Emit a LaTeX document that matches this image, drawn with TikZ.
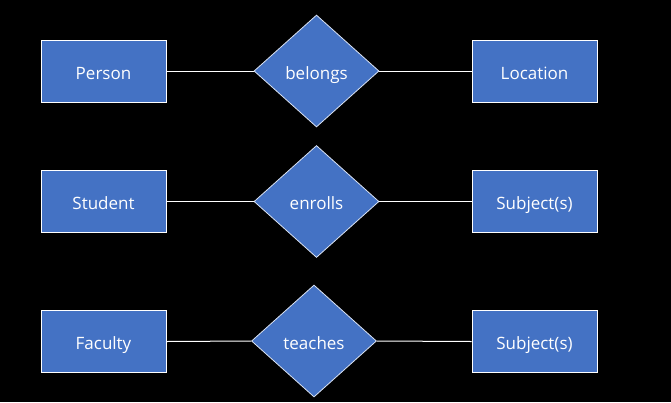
\documentclass[tikz,border=0pt]{standalone}
\usepackage{fontspec}
\setmainfont{Open Sans}
\usetikzlibrary{shapes.geometric}
\definecolor{boxblue}{HTML}{4472C4}
\tikzset{
  lbl/.style={text=white, font=\fontsize{17}{19}\selectfont, text height=17pt, text depth=1pt, inner sep=0pt},
  entity/.style={draw=white, line width=1pt, fill=boxblue, minimum width=125pt, minimum height=62pt, inner sep=0pt, lbl},
  relation/.style={diamond, draw=white!80!boxblue, line width=0.8pt, fill=boxblue, minimum width=125pt, minimum height=112pt, inner sep=0pt, shape aspect=1.116},
  link/.style={draw=white, line width=1pt}
}
\begin{document}
\begin{tikzpicture}[x=1pt,y=-1pt]
\fill[black] (0,0) rectangle (671,402);
\useasboundingbox (0,0) rectangle (671,402);
\node[entity] (person) at (103.5,71) {Person};
\node[relation] (belongs) at (316.5,71) {};
\node[lbl] (belongsT) at (316.5,71) {belongs};
\node[entity] (location) at (534.5,71) {Location};
\node[entity] (student) at (103.5,201.5) {Student};
\node[relation] (enrolls) at (316.5,201.5) {};
\node[lbl] (enrollsT) at (316.5,201.5) {enrolls};
\node[entity] (subj1) at (534.5,201.5) {Subject(s)};
\node[entity] (faculty) at (103.5,341.5) {Faculty};
\node[relation] (teaches) at (314,341) {};
\node[lbl] (teachesT) at (314,341) {teaches};
\node[entity] (subj2) at (534.5,341.5) {Subject(s)};
\draw[link] (person.east) -- (belongs.west);
\draw[link] (belongs.east) -- (location.west);
\draw[link] (student.east) -- (enrolls.west);
\draw[link] (enrolls.east) -- (subj1.west);
\draw[link] (faculty.east) -- (teaches.west);
\draw[link] (teaches.east) -- (subj2.west);
\end{tikzpicture}
\end{document}
